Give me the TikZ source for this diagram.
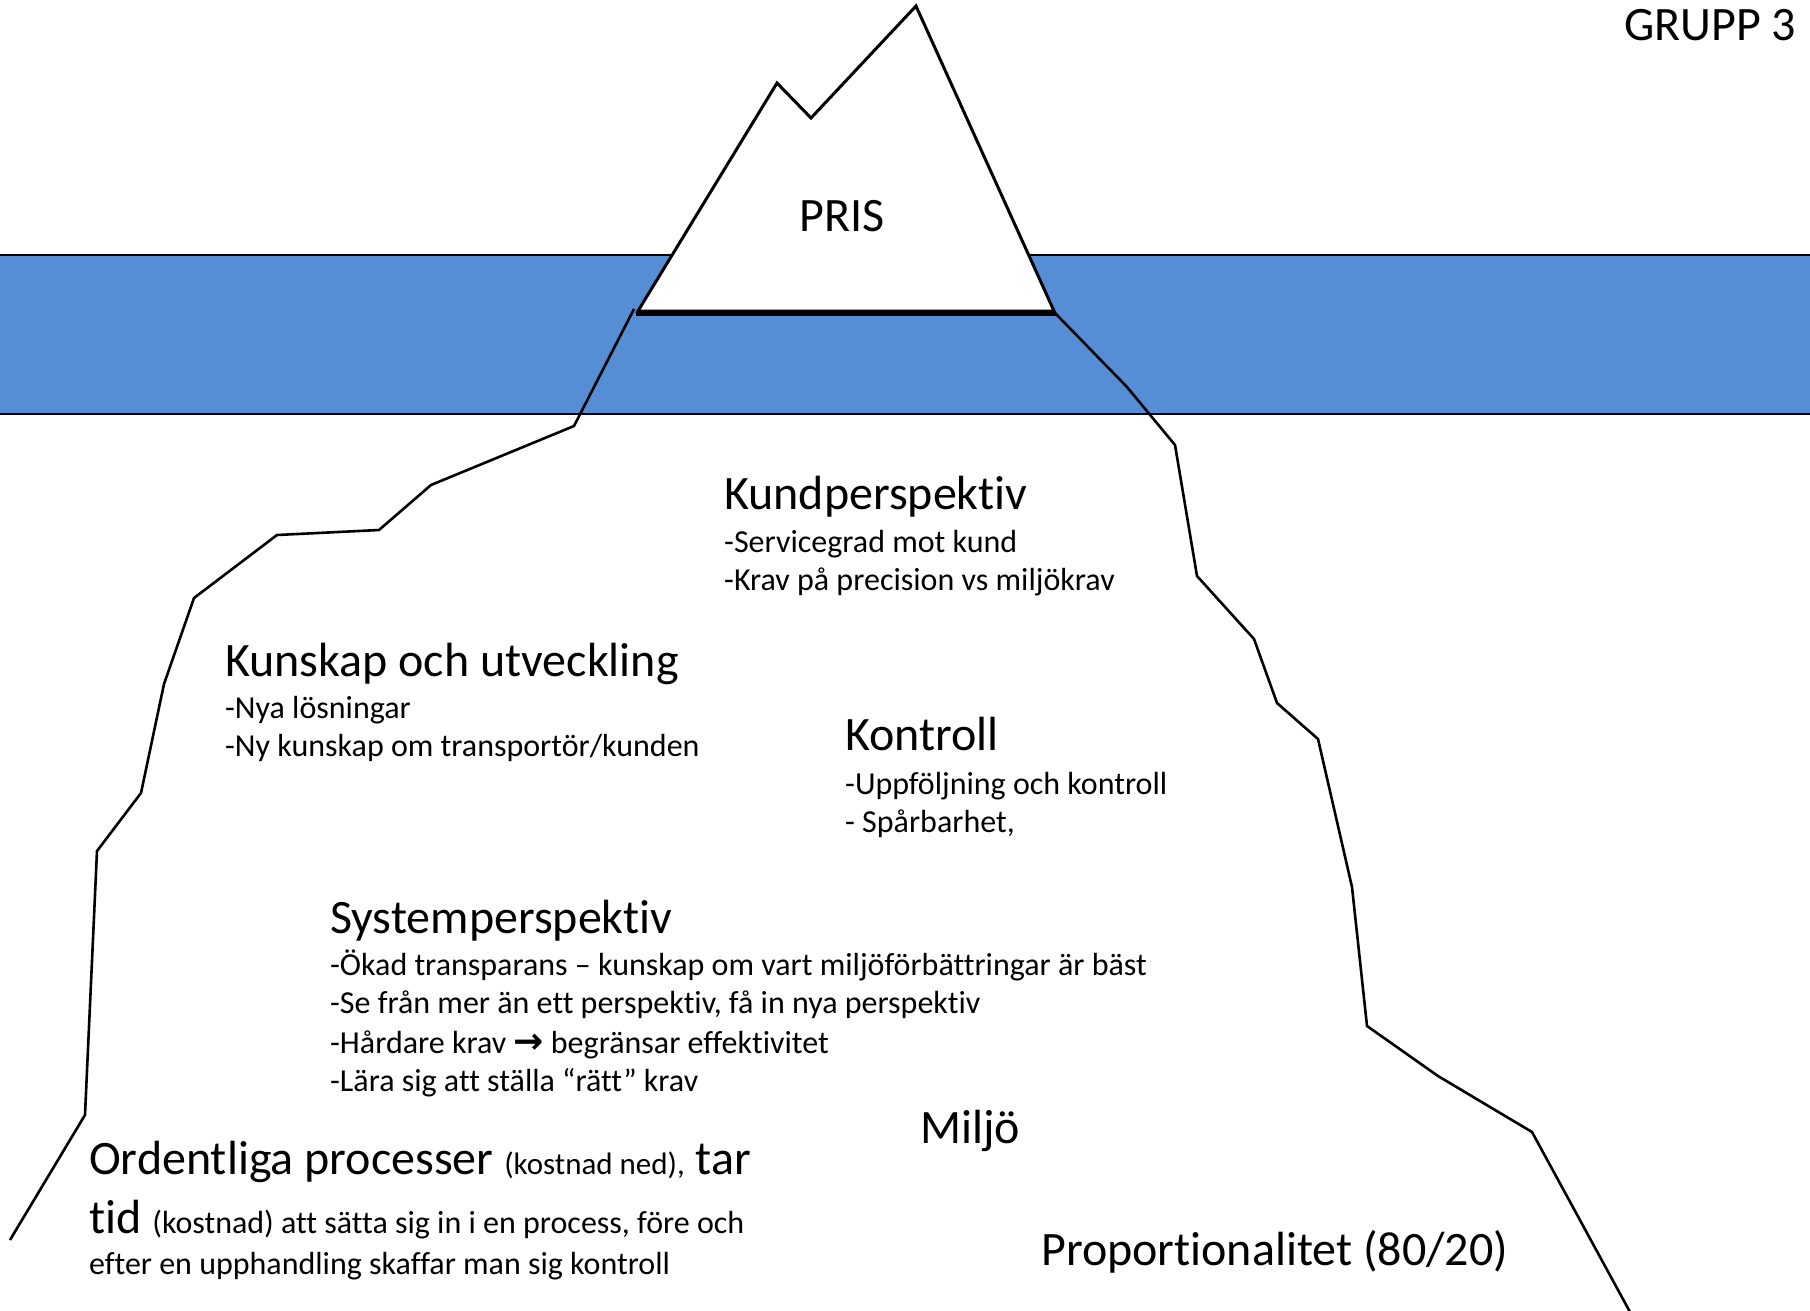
\documentclass[tikz,border=0pt]{standalone}
\usepackage{fontspec}
\setmainfont{Carlito}[Ligatures=NoCommon]
\newfontfamily\arrowfont{DejaVu Sans}
\definecolor{sea}{RGB}{85,142,213}

\begin{document}
\begin{tikzpicture}[x=1pt,y=-1pt,
  head/.style={anchor=base west,inner sep=0pt,font=\fontsize{48}{58}\selectfont},
  item/.style={anchor=base west,inner sep=0pt,font=\fontsize{32}{38}\selectfont},
  berg/.style={draw=black,line width=2.6pt,line join=miter}]
  \useasboundingbox (0,0) rectangle (1810,1310);
  \fill[white] (0,0) rectangle (1810,1310);

  % water
  \fill[sea] (0,255) rectangle (1810,414);
  \draw[line width=2.2pt] (0,255) -- (1810,255);
  \draw[line width=2.2pt] (0,414) -- (1810,414);

  % under water
  \draw[berg] (634,309) -- (574,426) -- (431,485) -- (379,530) -- (277,535)
    -- (194,598) -- (164,684) -- (141,793) -- (97,851) -- (85,1115) -- (10,1240);
  \draw[berg] (1055,313) -- (1127,387) -- (1175,445) -- (1197,576) -- (1254,639)
    -- (1277,703) -- (1318,739) -- (1352,887) -- (1367,1026) -- (1438,1076)
    -- (1532,1132) -- (1630,1312);

  % tip
  \filldraw[fill=white,berg,line width=3pt] (638,311) -- (777,83) -- (811,118)
    -- (916,6) -- (1054,311) -- cycle;
  \draw[line width=5pt] (636,313) -- (1056,313);

  \node[head] (grupp) at (1624,40) {GRUPP 3};
  \node[head] (pris) at (799,231) {PRIS};

  \node[head] (kund) at (724,509) {Kundperspektiv};
  \node[item] (kund1) at (724,552) {-Servicegrad mot kund};
  \node[item] (kund2) at (724,590) {-Krav på precision vs miljökrav};

  \node[head] (kunskap) at (225,676) {Kunskap och utveckling};
  \node[item] (kunskap1) at (225,718) {-Nya lösningar};
  \node[item] (kunskap2) at (225,756) {-Ny kunskap om transportör/kunden};

  \node[head] (kontroll) at (845,750) {Kontroll};
  \node[item] (kontroll1) at (845,794) {-Uppföljning och kontroll};
  \node[item] (kontroll2) at (845,832) {- Spårbarhet,};

  \node[head] (system) at (330,933) {Systemperspektiv};
  \node[item] (system1) at (330,975) {-Ökad transparans – kunskap om vart miljöförbättringar är bäst};
  \node[item] (system2) at (330,1013) {-Se från mer än ett perspektiv, få in nya perspektiv};
  \node[item] (system3) at (330,1053) {-Hårdare krav {\arrowfont\bfseries\fontsize{36}{38}\selectfont →} begränsar effektivitet};
  \node[item] (system4) at (330,1091) {-Lära sig att ställa “rätt” krav};

  \node[head] (miljo) at (920,1143) {Miljö};
  \node[head] (prop) at (1041,1265) {Proportionalitet (80/20)};

  \node[head] (ord1) at (89,1174) {Ordentliga processer {\fontsize{31}{36}\selectfont(kostnad ned),} tar};
  \node[head] (ord2) at (89,1233) {tid {\fontsize{32}{38}\selectfont(kostnad) att sätta sig in i en process, före och}};
  \node[item] (ord3) at (89,1274) {efter en upphandling skaffar man sig kontroll};
\end{tikzpicture}
\end{document}
